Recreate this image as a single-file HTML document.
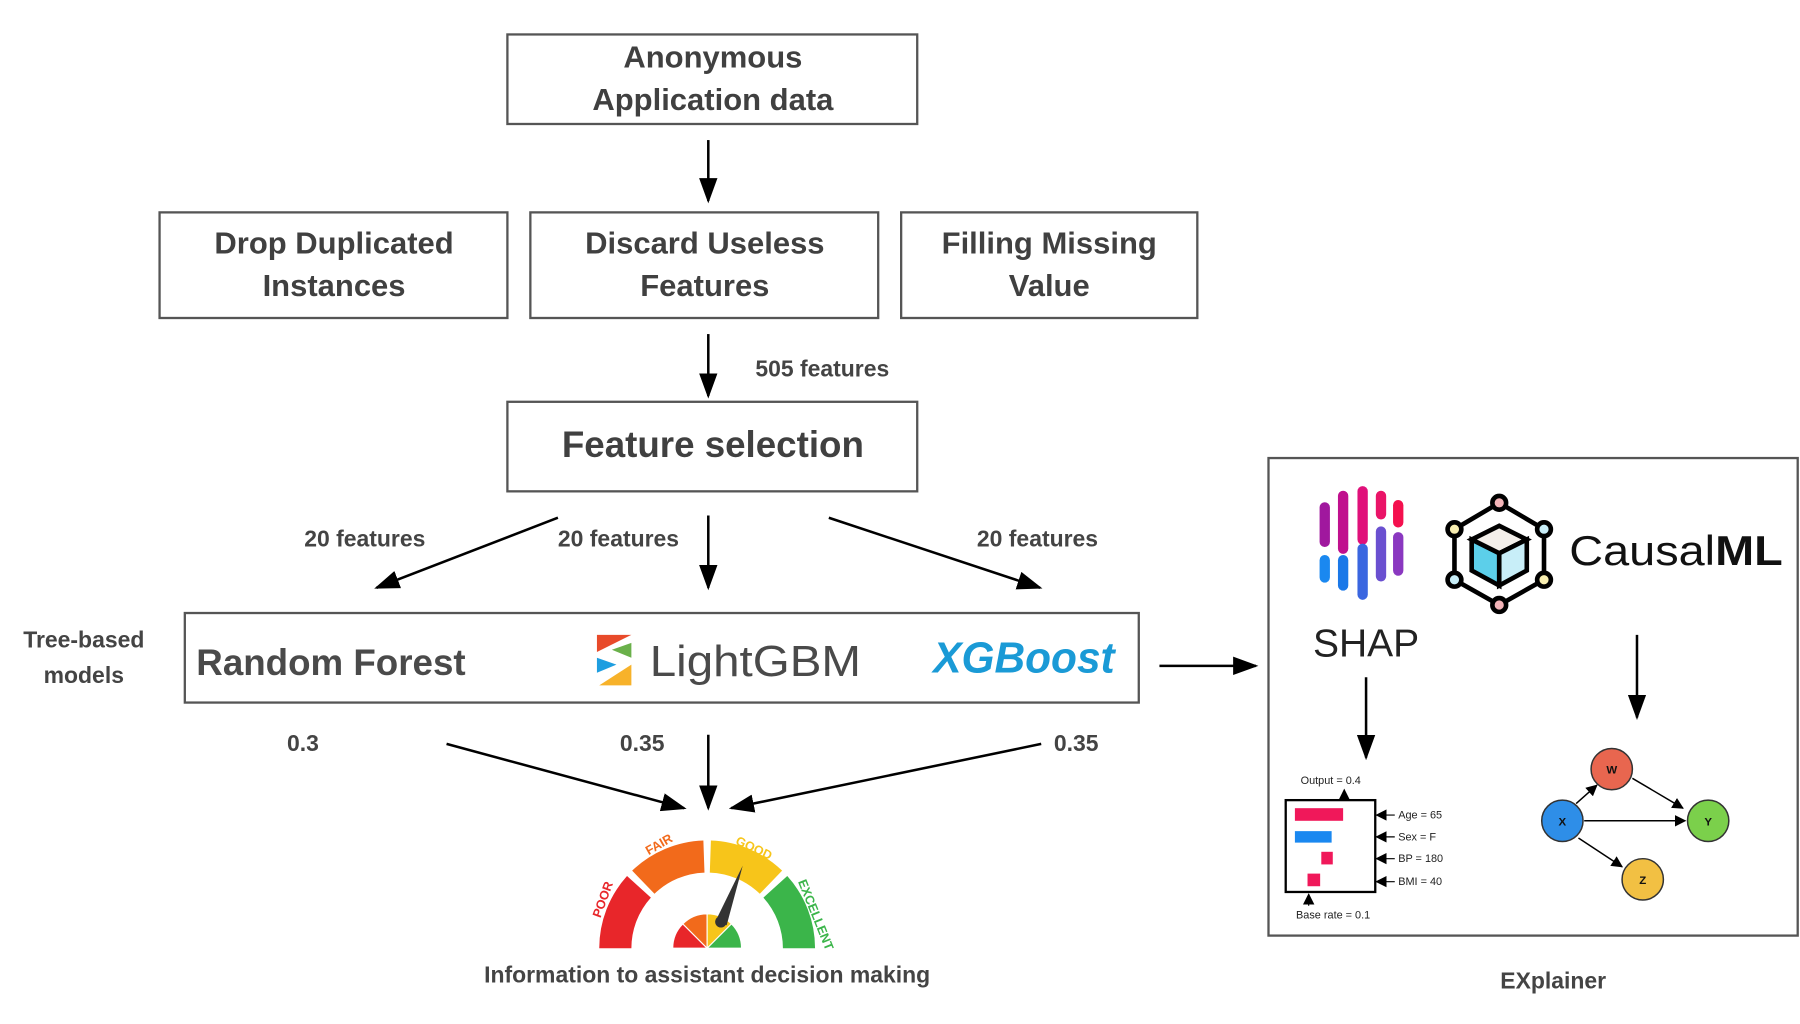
<!DOCTYPE html>
<html><head><meta charset="utf-8"><style>
html,body{margin:0;padding:0;background:#fff;}
svg{display:block;}
text{font-family:"Liberation Sans",sans-serif;}
</style></head><body>
<svg width="1800" height="1024" viewBox="0 0 1568 892" xmlns="http://www.w3.org/2000/svg">
<defs>
<marker id="ah" viewBox="0 0 10 10" refX="9" refY="5" markerWidth="10" markerHeight="10" markerUnits="userSpaceOnUse" orient="auto">
<path d="M0,0 L10,5 L0,10 z" fill="#000"/></marker>
<marker id="ab" viewBox="0 0 10 10" refX="9" refY="5" markerWidth="22" markerHeight="16" markerUnits="userSpaceOnUse" orient="auto" preserveAspectRatio="none">
<path d="M0,0 L10,5 L0,10 z" fill="#000"/></marker>
</defs>
<g fill="none" stroke="#555" stroke-width="2">
<rect x="442" y="30" width="357" height="78"/>
<rect x="139" y="185" width="303" height="92"/>
<rect x="462" y="185" width="303" height="92"/>
<rect x="785" y="185" width="258" height="92"/>
<rect x="442" y="350" width="357" height="78"/>
<rect x="161" y="534" width="831" height="78"/>
<rect x="1105" y="399" width="461" height="416"/>
</g>
<g fill="#404040" font-weight="bold" text-anchor="middle" font-size="27">
<text x="621" y="59">Anonymous</text>
<text x="621" y="96">Application data</text>
<text x="291" y="221">Drop Duplicated</text>
<text x="291" y="258">Instances</text>
<text x="614" y="221">Discard Useless</text>
<text x="614" y="258">Features</text>
<text x="914" y="221">Filling Missing</text>
<text x="914" y="258">Value</text>
<text x="621" y="398" font-size="32">Feature selection</text>
</g>
<g fill="#444" font-weight="bold" font-size="20">
<text x="658" y="328">505 features</text>
<text x="265" y="476">20 features</text>
<text x="486" y="476">20 features</text>
<text x="851" y="476">20 features</text>
<text x="250" y="654">0.3</text>
<text x="540" y="654">0.35</text>
<text x="918" y="654">0.35</text>
<text x="73" y="564" text-anchor="middle">Tree-based</text>
<text x="73" y="595" text-anchor="middle">models</text>
<text x="616" y="856" text-anchor="middle">Information to assistant decision making</text>
<text x="1353" y="861" text-anchor="middle">EXplainer</text>
</g>
<g stroke="#000" stroke-width="2.2" marker-end="url(#ab)">
<line x1="617" y1="122" x2="617" y2="175"/>
<line x1="617" y1="291" x2="617" y2="345"/>
<line x1="486" y1="451" x2="328" y2="512"/>
<line x1="617" y1="449" x2="617" y2="512"/>
<line x1="722" y1="451" x2="906" y2="512"/>
<line x1="389" y1="648" x2="596" y2="704"/>
<line x1="617" y1="640" x2="617" y2="704"/>
<line x1="907" y1="648" x2="637" y2="704"/>
<line x1="1010" y1="580" x2="1094" y2="580"/>
<line x1="1190" y1="590" x2="1190" y2="660"/>
<line x1="1426" y1="553" x2="1426" y2="625"/>
</g>
<!-- models -->
<text x="171" y="588" font-size="32" font-weight="bold" fill="#4a4a4a">Random Forest</text>
<polygon points="520,553 550,553 520,568" fill="#e84a2a"/>
<polygon points="550,560 550,573 533,566" fill="#6ab04a"/>
<polygon points="520,573 537,579 520,586" fill="#1e9ee0"/>
<polygon points="550,579 550,597 522,597" fill="#f7b22a"/>
<text x="566" y="589" font-size="38" fill="#4a4a4a" textLength="184" lengthAdjust="spacingAndGlyphs">LightGBM</text>
<text x="813" y="586" font-size="38" font-weight="bold" font-style="italic" fill="#1a9ad6" textLength="158" lengthAdjust="spacingAndGlyphs">XGBoost</text>
<!-- gauge -->
<g fill="none" stroke-width="28">
<path d="M536,826 A80,80 0 0 1 556.6,772.5" stroke="#e8262a"/>
<path d="M560.4,768.5 A80,80 0 0 1 613.2,746.1" stroke="#f26a1b"/>
<path d="M618.8,746.1 A80,80 0 0 1 671.6,768.5" stroke="#f7c51a"/>
<path d="M675.4,772.5 A80,80 0 0 1 696,826" stroke="#3bb54a"/>
</g>
<path d="M616,826 L586,826 A30,30 0 0 1 594.8,804.8z" fill="#e8262a" stroke="#fff"/>
<path d="M616,826 L594.8,804.8 A30,30 0 0 1 616,796z" fill="#f26a1b" stroke="#fff"/>
<path d="M616,826 L616,796 A30,30 0 0 1 637.2,804.8z" fill="#f7c51a" stroke="#fff"/>
<path d="M616,826 L637.2,804.8 A30,30 0 0 1 646,826z" fill="#3bb54a" stroke="#fff"/>
<polygon points="623,803 633,806 647,754" fill="#333"/>
<circle cx="628" cy="803" r="5" fill="#333"/>
<g font-size="11" font-weight="bold">
<text x="523" y="800" fill="#e8262a" transform="rotate(-70 523 800)">POOR</text>
<text x="565" y="745" fill="#f26a1b" transform="rotate(-30 565 745)">FAIR</text>
<text x="640" y="735" fill="#f7c51a" transform="rotate(25 640 735)">GOOD</text>
<text x="695" y="768" fill="#3bb54a" transform="rotate(68 695 768)">EXCELLENT</text>
</g>
<!-- SHAP logo -->
<g stroke-linecap="round" stroke-width="9">
<line x1="1154" y1="442" x2="1154" y2="472" stroke="#a0189e"/>
<line x1="1170" y1="432" x2="1170" y2="478" stroke="#c0108e"/>
<line x1="1187" y1="428" x2="1187" y2="470" stroke="#e0107a"/>
<line x1="1203" y1="432" x2="1203" y2="448" stroke="#ea1468"/>
<line x1="1218" y1="440" x2="1218" y2="455" stroke="#f4104e"/>
<line x1="1154" y1="488" x2="1154" y2="503" stroke="#1a88f0"/>
<line x1="1170" y1="488" x2="1170" y2="510" stroke="#1a78e8"/>
<line x1="1187" y1="478" x2="1187" y2="518" stroke="#3a66e0"/>
<line x1="1203" y1="463" x2="1203" y2="502" stroke="#6a50d0"/>
<line x1="1218" y1="468" x2="1218" y2="497" stroke="#8a38c0"/>
</g>
<text x="1190" y="572" font-size="34" text-anchor="middle" fill="#222">SHAP</text>
<!-- CausalML icon -->
<g stroke="#000" stroke-width="4">
<polygon points="1306,438 1345,461 1345,505 1306,527 1267,505 1267,461" fill="none"/>
<polygon points="1306,458 1330,470 1306,482 1282,470" fill="#f3efea"/>
<polygon points="1282,470 1306,482 1306,510 1282,497" fill="#5ccfea"/>
<polygon points="1306,482 1330,470 1330,497 1306,510" fill="#c8eef8"/>
<circle cx="1306" cy="438" r="6" fill="#f4b4b8"/>
<circle cx="1345" cy="461" r="6" fill="#c8eef8"/>
<circle cx="1345" cy="505" r="6" fill="#f8eeb0"/>
<circle cx="1306" cy="527" r="6" fill="#f4b4b8"/>
<circle cx="1267" cy="505" r="6" fill="#c8eef8"/>
<circle cx="1267" cy="461" r="6" fill="#f8eeb0"/>
</g>
<text x="1367" y="492" font-size="36" fill="#111" textLength="186" lengthAdjust="spacingAndGlyphs">Causal<tspan font-weight="bold">ML</tspan></text>
<!-- SHAP plot -->
<g font-size="9.5" fill="#222">
<text x="1133" y="683">Output = 0.4</text>
<rect x="1120" y="697" width="78" height="80" fill="none" stroke="#000" stroke-width="2"/>
<rect x="1128" y="704" width="42" height="11" fill="#f0185a"/>
<rect x="1128" y="724" width="32" height="10" fill="#1a88f0"/>
<rect x="1151" y="742" width="10" height="11" fill="#f0185a"/>
<rect x="1139" y="761" width="11" height="11" fill="#f0185a"/>
<text x="1218" y="713">Age = 65</text>
<text x="1218" y="732">Sex = F</text>
<text x="1218" y="751">BP = 180</text>
<text x="1218" y="771">BMI = 40</text>
<text x="1129" y="800">Base rate = 0.1</text>
<line x1="1171" y1="697" x2="1171" y2="688" stroke="#000" marker-end="url(#ah)"/>
<line x1="1140" y1="789" x2="1140" y2="779" stroke="#000" marker-end="url(#ah)"/>
<line x1="1215" y1="710" x2="1199" y2="710" stroke="#000" marker-end="url(#ah)"/>
<line x1="1215" y1="729" x2="1199" y2="729" stroke="#000" marker-end="url(#ah)"/>
<line x1="1215" y1="748" x2="1199" y2="748" stroke="#000" marker-end="url(#ah)"/>
<line x1="1215" y1="768" x2="1199" y2="768" stroke="#000" marker-end="url(#ah)"/>
</g>
<!-- causal graph -->
<g stroke="#000" stroke-width="1.3" marker-end="url(#ah)">
<line x1="1373" y1="700" x2="1391" y2="684"/>
<line x1="1422" y1="678" x2="1466" y2="704"/>
<line x1="1380" y1="715" x2="1468" y2="715"/>
<line x1="1375" y1="730" x2="1413" y2="755"/>
</g>
<g stroke="#333" stroke-width="1.3">
<circle cx="1404" cy="670" r="18" fill="#e8664f"/>
<circle cx="1361" cy="715" r="18" fill="#2e8ee8"/>
<circle cx="1488" cy="715" r="18" fill="#7bd04b"/>
<circle cx="1431" cy="766" r="18" fill="#f2c043"/>
</g>
<g font-size="10" font-weight="bold" text-anchor="middle" fill="#111">
<text x="1404" y="674">W</text><text x="1361" y="719">X</text><text x="1488" y="719">Y</text><text x="1431" y="770">Z</text>
</g>
</svg>
</body></html>
